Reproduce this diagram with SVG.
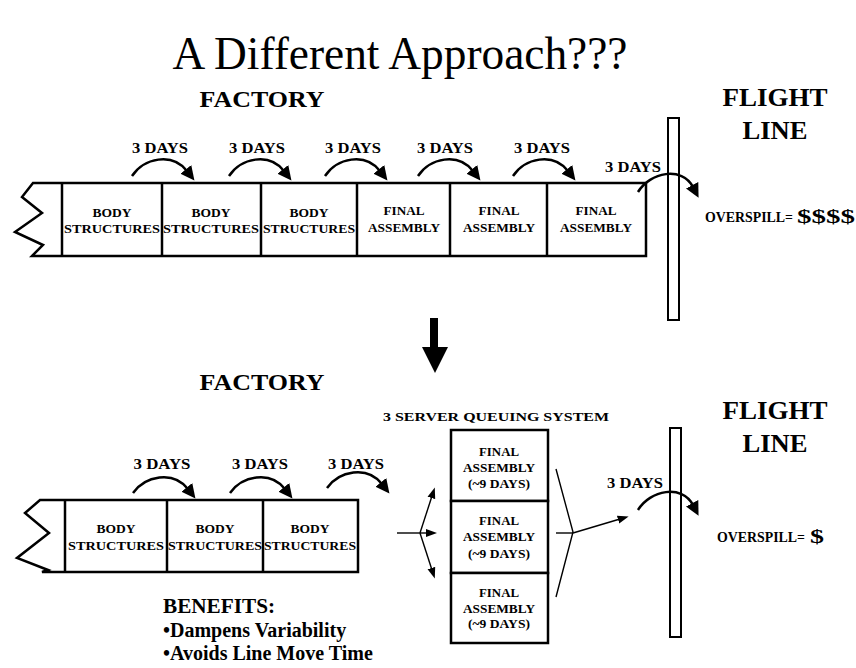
<svg xmlns="http://www.w3.org/2000/svg" width="856" height="668" viewBox="0 0 856 668">
<style>
text{font-family:"Liberation Serif","Times New Roman",serif;font-weight:bold;fill:#000}
.t{font-size:12px;text-anchor:middle}
.d{font-size:15px;text-anchor:middle}
.h{font-size:24px;text-anchor:middle}
.f{font-size:26px;text-anchor:middle}
.o{font-size:14px}
.box{fill:#fff;stroke:#000;stroke-width:2.5}
.ln{fill:none;stroke:#000;stroke-width:2.5;stroke-linejoin:miter}
.arc{fill:none;stroke:#000;stroke-width:2.5;marker-end:url(#ah)}
.thin{fill:none;stroke:#000;stroke-width:1.4}
.tha{fill:none;stroke:#000;stroke-width:1.4;marker-end:url(#sh)}
.pole{fill:none;stroke:#000;stroke-width:2}
</style>
<defs>
<marker id="ah" markerUnits="userSpaceOnUse" markerWidth="15" markerHeight="14" refX="2" refY="7" orient="auto" viewBox="0 0 15 14">
<path d="M0,0 L14,7 L0,14 z" fill="#000"/>
</marker>
<marker id="sh" markerUnits="userSpaceOnUse" markerWidth="12" markerHeight="10" refX="2" refY="4" orient="auto" viewBox="0 0 12 8">
<path d="M0,0 L11,4 L0,8 z" fill="#000"/>
</marker>
</defs>
<rect width="856" height="668" fill="#fff"/>

<text x="400" y="69" style="font-size:46px;font-weight:normal;text-anchor:middle" textLength="455" lengthAdjust="spacingAndGlyphs">A Different Approach???</text>

<g id="top-headers">
<text class="h" x="262" y="107" textLength="125" lengthAdjust="spacingAndGlyphs">FACTORY</text>
<text class="f" x="775" y="106" textLength="105" lengthAdjust="spacingAndGlyphs">FLIGHT</text>
<text class="f" x="775" y="139" textLength="65" lengthAdjust="spacingAndGlyphs">LINE</text>
</g>

<g id="top-line">
<path class="ln" d="M646,183 L33,183 L22,197 L42,213 L15,232 L43,245 L32,256 L646,256 Z"/>
<line class="ln" x1="62" y1="183" x2="62" y2="256"/>
<line class="ln" x1="162" y1="183" x2="162" y2="256"/>
<line class="ln" x1="261" y1="183" x2="261" y2="256"/>
<line class="ln" x1="357" y1="183" x2="357" y2="256"/>
<line class="ln" x1="450" y1="183" x2="450" y2="256"/>
<line class="ln" x1="547" y1="183" x2="547" y2="256"/>
</g>
<g id="t1"><text class="t" x="112" y="217" textLength="39" lengthAdjust="spacingAndGlyphs">BODY</text><text class="t" x="112" y="233" textLength="96" lengthAdjust="spacingAndGlyphs">STRUCTURES</text></g>
<g id="t2"><text class="t" x="211" y="217" textLength="39" lengthAdjust="spacingAndGlyphs">BODY</text><text class="t" x="211" y="233" textLength="96" lengthAdjust="spacingAndGlyphs">STRUCTURES</text></g>
<g id="t3"><text class="t" x="309" y="217" textLength="39" lengthAdjust="spacingAndGlyphs">BODY</text><text class="t" x="309" y="233" textLength="92" lengthAdjust="spacingAndGlyphs">STRUCTURES</text></g>
<g id="t4"><text class="t" x="404" y="215" textLength="41" lengthAdjust="spacingAndGlyphs">FINAL</text><text class="t" x="404" y="232" textLength="72" lengthAdjust="spacingAndGlyphs">ASSEMBLY</text></g>
<g id="t5"><text class="t" x="499" y="215" textLength="41" lengthAdjust="spacingAndGlyphs">FINAL</text><text class="t" x="499" y="232" textLength="72" lengthAdjust="spacingAndGlyphs">ASSEMBLY</text></g>
<g id="t6"><text class="t" x="596" y="215" textLength="41" lengthAdjust="spacingAndGlyphs">FINAL</text><text class="t" x="596" y="232" textLength="72" lengthAdjust="spacingAndGlyphs">ASSEMBLY</text></g>

<g id="top-pole"><rect class="pole" x="668" y="118" width="11" height="202"/></g>

<g id="top-labels">
<text class="d" x="160" y="153" textLength="56" lengthAdjust="spacingAndGlyphs">3 DAYS</text>
<text class="d" x="257" y="153" textLength="56" lengthAdjust="spacingAndGlyphs">3 DAYS</text>
<text class="d" x="353" y="153" textLength="56" lengthAdjust="spacingAndGlyphs">3 DAYS</text>
<text class="d" x="445" y="153" textLength="56" lengthAdjust="spacingAndGlyphs">3 DAYS</text>
<text class="d" x="542" y="153" textLength="56" lengthAdjust="spacingAndGlyphs">3 DAYS</text>
<text class="d" x="633" y="172" textLength="56" lengthAdjust="spacingAndGlyphs">3 DAYS</text>
<text class="o" x="705" y="222" textLength="88" lengthAdjust="spacingAndGlyphs">OVERSPILL=</text>
<text x="797" y="223" style="font-size:19px" textLength="58" lengthAdjust="spacingAndGlyphs">$$$$</text>
</g>

<g id="connectors">
<path class="arc" d="M132,176 C144,158 172,152 187,171"/>
<path class="arc" d="M229,176 C241,158 269,152 284,171"/>
<path class="arc" d="M325,176 C337,158 365,152 380,171"/>
<path class="arc" d="M418,176 C430,158 458,152 473,171"/>
<path class="arc" d="M513,176 C525,158 553,152 568,171"/>
<path class="arc" d="M638,192 C650,172 682,166 693,187"/>
<path class="arc" d="M133,493 C145,476 173,470 188,489"/>
<path class="arc" d="M230,493 C242,476 270,470 285,489"/>
<path class="arc" d="M327,488 C339,471 367,465 382,484"/>
<path class="arc" d="M638,510 C650,490 682,484 693,505"/>
<line class="tha" x1="397" y1="533" x2="428" y2="533"/>
<line class="tha" x1="420" y1="533" x2="432" y2="496"/>
<line class="tha" x1="420" y1="533" x2="432" y2="570"/>
<polyline class="thin" points="556,469 573,532 556,597"/>
<line class="thin" x1="556" y1="533" x2="573" y2="533"/>
<line class="tha" x1="573" y1="533" x2="620" y2="519"/>
</g>

<g id="down-arrow">
<rect x="430" y="318" width="8" height="30" fill="#000"/>
<polygon points="422,347 448,347 435,373" fill="#000"/>
</g>

<g id="bottom-headers">
<text class="h" x="262" y="390" textLength="125" lengthAdjust="spacingAndGlyphs">FACTORY</text>
<text x="496" y="421" style="font-size:13px;text-anchor:middle" textLength="226" lengthAdjust="spacingAndGlyphs">3 SERVER QUEUING SYSTEM</text>
<text class="f" x="775" y="419" textLength="105" lengthAdjust="spacingAndGlyphs">FLIGHT</text>
<text class="f" x="775" y="452" textLength="65" lengthAdjust="spacingAndGlyphs">LINE</text>
</g>

<g id="bottom-line">
<path class="ln" d="M358,500 L40,500 L25,513 L49,533 L17,558 L48,570 L42,572 L358,572 Z"/>
<line class="ln" x1="65" y1="500" x2="65" y2="572"/>
<line class="ln" x1="167" y1="500" x2="167" y2="572"/>
<line class="ln" x1="263" y1="500" x2="263" y2="572"/>
</g>
<g id="b1"><text class="t" x="116" y="533" textLength="39" lengthAdjust="spacingAndGlyphs">BODY</text><text class="t" x="116" y="550" textLength="96" lengthAdjust="spacingAndGlyphs">STRUCTURES</text></g>
<g id="b2"><text class="t" x="215" y="533" textLength="39" lengthAdjust="spacingAndGlyphs">BODY</text><text class="t" x="215" y="550" textLength="94" lengthAdjust="spacingAndGlyphs">STRUCTURES</text></g>
<g id="b3"><text class="t" x="310" y="533" textLength="39" lengthAdjust="spacingAndGlyphs">BODY</text><text class="t" x="310" y="550" textLength="92" lengthAdjust="spacingAndGlyphs">STRUCTURES</text></g>

<g id="bottom-labels">
<text class="d" x="162" y="469" textLength="57" lengthAdjust="spacingAndGlyphs">3 DAYS</text>
<text class="d" x="260" y="469" textLength="56" lengthAdjust="spacingAndGlyphs">3 DAYS</text>
<text class="d" x="356" y="469" textLength="56" lengthAdjust="spacingAndGlyphs">3 DAYS</text>
<text class="d" x="635" y="488" textLength="56" lengthAdjust="spacingAndGlyphs">3 DAYS</text>
<text class="o" x="717" y="542" textLength="88" lengthAdjust="spacingAndGlyphs">OVERSPILL=</text>
<text x="810" y="543" style="font-size:19px" textLength="14" lengthAdjust="spacingAndGlyphs">$</text>
</g>

<g id="q1"><rect class="box" x="451" y="430" width="97" height="71"/>
<text class="t" x="499" y="456" textLength="40" lengthAdjust="spacingAndGlyphs">FINAL</text>
<text class="t" x="499" y="472" textLength="72" lengthAdjust="spacingAndGlyphs">ASSEMBLY</text>
<text class="t" x="499" y="488" textLength="62" lengthAdjust="spacingAndGlyphs">(~9 DAYS)</text></g>
<g id="q2"><rect class="box" x="451" y="501" width="97" height="72"/>
<text class="t" x="499" y="525" textLength="40" lengthAdjust="spacingAndGlyphs">FINAL</text>
<text class="t" x="499" y="541" textLength="72" lengthAdjust="spacingAndGlyphs">ASSEMBLY</text>
<text class="t" x="499" y="558" textLength="62" lengthAdjust="spacingAndGlyphs">(~9 DAYS)</text></g>
<g id="q3"><rect class="box" x="451" y="573" width="97" height="70"/>
<text class="t" x="499" y="597" textLength="40" lengthAdjust="spacingAndGlyphs">FINAL</text>
<text class="t" x="499" y="613" textLength="72" lengthAdjust="spacingAndGlyphs">ASSEMBLY</text>
<text class="t" x="499" y="628" textLength="62" lengthAdjust="spacingAndGlyphs">(~9 DAYS)</text></g>

<g id="bottom-pole"><rect class="pole" x="670" y="428" width="11" height="209"/></g>

<g id="benefits">
<text x="163" y="613" style="font-size:20px" textLength="112" lengthAdjust="spacingAndGlyphs">BENEFITS:</text>
<text x="163" y="637" style="font-size:20px">•Dampens Variability</text>
<text x="163" y="660" style="font-size:20px">•Avoids Line Move Time</text>
</g>
</svg>
